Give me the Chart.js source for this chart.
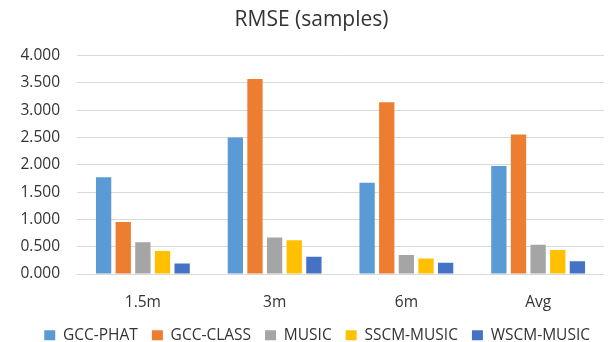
<!DOCTYPE html>
<html>
<head>
<meta charset="utf-8">
<script src="https://cdn.jsdelivr.net/npm/chart.js@4/dist/chart.umd.min.js"></script>
<style>
  html, body { margin: 0; padding: 0; background: #fff; }
  #wrap { width: 611px; height: 342px; }
</style>
</head>
<body>
<div id="wrap"><canvas id="c" width="611" height="342"></canvas></div>
<script>
// Distances and per-method RMSE values (in samples)
const categories = ['1.5m', '3m', '6m', 'Avg'];
const gccPhat   = [1.772, 2.500, 1.673, 1.981];
const gccClass  = [0.951, 3.574, 3.148, 2.556];
const music     = [0.580, 0.667, 0.346, 0.537];
const sscmMusic = [0.420, 0.617, 0.284, 0.438];
const wscmMusic = [0.191, 0.315, 0.204, 0.235];
const yTicks = [0, 0.5, 1, 1.5, 2, 2.5, 3, 3.5, 4];

const FONT = 'Open Sans, Lato, sans-serif';
const TEXT = '#333333';
const mk = (label, data, color) => ({
  label, data, backgroundColor: color, borderWidth: 0,
  barPercentage: 0.78, categoryPercentage: 0.745
});

new Chart(document.getElementById('c'), {
  type: 'bar',
  data: {
    labels: categories,
    datasets: [
      mk('GCC-PHAT', gccPhat, '#5B9BD5'),
      mk('GCC-CLASS', gccClass, '#ED7D31'),
      mk('MUSIC', music, '#A5A5A5'),
      mk('SSCM-MUSIC', sscmMusic, '#FFC000'),
      mk('WSCM-MUSIC', wscmMusic, '#4472C4')
    ]
  },
  options: {
    responsive: false,
    animation: false,
    layout: { padding: { left: 19, right: 7, top: 7.5, bottom: -11 } },
    plugins: {
      title: {
        display: true, text: 'RMSE (samples)', color: TEXT,
        font: { family: FONT, size: 21, weight: 'normal' },
        padding: { top: 0, bottom: 23 }
      },
      legend: {
        position: 'bottom',
        align: 'end',
        labels: {
          color: TEXT, boxWidth: 11, boxHeight: 10, padding: 14,
          font: { family: FONT, size: 15.5 }
        }
      },
      tooltip: { enabled: false }
    },
    scales: {
      x: {
        grid: { display: false, drawTicks: false },
        border: { display: false },
        ticks: { color: TEXT, padding: 19, font: { family: FONT, size: 15.5 } },
        // keep the gap between the category labels and the legend tight
        afterFit: (scale) => { scale.height = 39.5; }
      },
      y: {
        min: 0, max: 4,
        afterBuildTicks: (axis) => { axis.ticks = yTicks.map(v => ({ value: v })); },
        grid: { color: '#D9D9D9', lineWidth: 1, drawTicks: false },
        border: { display: false },
        ticks: {
          color: TEXT, padding: 17,
          font: { family: FONT, size: 15.5 },
          callback: (v) => Number(v).toFixed(3)
        },
        afterFit: (scale) => { scale.width = 58; }
      }
    }
  }
});
</script>
</body>
</html>
